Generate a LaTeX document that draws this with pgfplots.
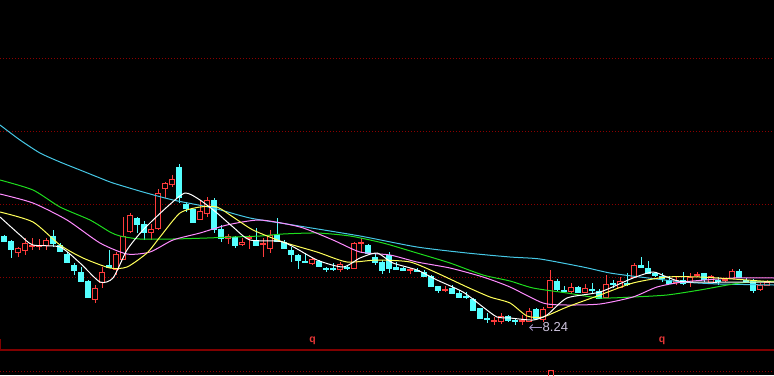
\documentclass[border=0pt]{standalone}
\usepackage{pgfplots}
\usepackage{pgfplotstable}
\pgfplotsset{compat=1.18}
\usetikzlibrary{arrows.meta}
\usepackage{fontspec}
\setmainfont{Liberation Sans}
\definecolor{upc}{RGB}{255,60,60}
\definecolor{downc}{RGB}{84,255,255}
\definecolor{gridc}{RGB}{140,0,0}
\definecolor{sepc}{RGB}{128,0,0}
\definecolor{maw}{RGB}{255,255,255}
\definecolor{may}{RGB}{255,255,90}
\definecolor{map}{RGB}{255,140,255}
\definecolor{mag}{RGB}{30,220,30}
\definecolor{mac}{RGB}{70,200,230}
\definecolor{lblc}{RGB}{205,195,220}
\definecolor{arrc}{RGB}{165,150,200}

% candles: x position, open, high, low, close (screen units, larger = lower)
\pgfplotstableread{
x o h l c
4 236 235 242 241
11 241 240 258 249
18 252 247 257 248
25 250 238 255 243
32 246.5 238 250 245.5
39 246.5 239 250 245.5
46 245 238 250 240
53 236 230 247 243
60 245 243 252 251
67 254 252 263 262
74 265 263 275 270
81 272 267 281 281
88 281 280 297 297
95 299 285 303 288
102 282 267 288 272
109 265 250 268 267
116 269 252 275 254
123 259 217 260 236
130 231 213 233 215
137 218 217 233 224
144 224 221 240 232
151 232 224 240 229
158 228 189 230 193
165 188 182 198 183
172 184 175 187 179
179 167 164 203 197
186 204 202 212 208
193 209 209 222 222
200 219 200 220 211
207 213 197 217 200
214 200 198 233 229
221 229 225 242 238
228 238 234 244 236
235 237 236 248 245
242 244 238 246 242
249 238 235 249 237
256 241 228 245 245
263 244 238 257 243
270 248 230 253 235
277 234 218 242 241
284 242 240 249 248
291 250 247 262 254
298 255 254 269 260
305 261 253 262 262
312 263 257 265 259
319 261 260 267 266
326 268 267 272 269
333 268.5 263 271 269.5
340 269 262 272 264
347 267 265 270 268
354 268 242 269 243
361 243.5 238 253 242.5
368 245 244 253 253
375 257 253 265 262
382 262 260 274 270
389 255 252 273 268
396 267 262 270 269
403 268 267 271 270
410 270.5 268 274 269.5
417 270 268 272 271
424 272 270 277 276
431 276 275 287 286
438 286 286 293 290
445 290 286 292 289
452 288 285 294 293
459 293 290 298 297
466 296 292 299 297
473 299 298 311 310
480 308 308 318 318
487 318 313 323 319
494 321.5 317 325 320.5
501 321 313 324 316
508 316 315 322 320
515 320 318 325 321
522 321.5 315 325 320.5
529 321 308 322 311
536 309 308 320 318
543 319 307 322 309
550 307 270 308 280
557 281 279 291 289
564 290 286 293 291
571 291 283 294 287
578 287 286 293 292
585 292 284 293 288
592 289 283 293 290
599 291 289 299 298
606 297 275 298 284
613 283 280 288 284
620 287 277 288 281
627 283 273 286 284
634 277 263 277 265
641 265 257 267 267
648 268 261 274 273
655 273 272 277 275
662 276 273 282 278
669 280 276 283 283
676 282 277 285 280.5
683 280 272 285 283
690 282 273 287 277
697 275 272 277 274
704 273 273 282 279
711 282 275 284 276
718 280 277 285 281
725 280.5 278 282 279.5
732 278 269 279 271
739 271 269 278 277
746 280 278 281 281
753 281 279 293 290
760 289 283 291 285
767 285 280 285 282
}\candles

\pgfplotstableread{
x y
0 125
20 140
40 153
60 162
80 170
100 178
113 183
143 192
173 200
213 208
250 218
293 225
360 236
417 247
467 253
510 257
540 259
583 267
610 273
640 277
683 282
720 284
774 285
}\macyan

\pgfplotstableread{
x y
0 180
33 190
60 207
90 220
110 232
120 236
140 239
173 239
207 238
233 237
260 236
283 234
317 233
350 236
383 243
417 253
450 263
483 275
510 281
533 288
567 293
600 298
633 297
667 295
700 290
740 283
774 281
}\magreen

\pgfplotstableread{
x y
0 194
33 203
67 220
100 243
127 254
150 252
173 240
200 233
227 225
260 220
300 227
333 240
360 252
390 255
417 262
450 268
483 277
510 287
543 303
567 305
600 304
633 297
657 287
683 282
733 278
774 278
}\mapink

\pgfplotstableread{
x y
0 212
33 222
60 245
83 258
110 268
127 267
147 253
160 237
180 213
200 207
217 207
233 217
253 230
283 242
317 252
347 262
377 260
410 262
437 273
467 287
490 297
510 303
527 316
543 317
567 307
600 295
633 283
667 277
700 277
733 279
774 282
}\mayellow

\pgfplotstableread{
x y
0 217
20 235
33 245
60 247
80 263
100 282
113 278
127 250
143 230
167 207
185 193
200 200
217 213
233 227
250 240
283 242
317 260
343 267
360 258
377 253
393 263
417 270
437 280
463 292
483 307
497 317
510 318
533 320
547 315
567 298
600 292
633 278
653 272
667 277
687 282
774 282
}\mawhite

\pgfplotstablegetrowsof{\candles}
\pgfmathtruncatemacro{\lastrow}{\pgfplotsretval-1}

\begin{document}
\begin{tikzpicture}
\begin{axis}[
  width=774pt, height=375pt, scale only axis,
  xmin=0, xmax=774, ymin=0, ymax=375, y dir=reverse,
  axis line style={draw=none}, ticks=none,
  axis background/.style={fill=black},
]
% grid lines
\addplot[gridc, line width=1pt, dash pattern=on 1pt off 2pt, mark=none, forget plot] coordinates {(0,58) (774,58)};
\addplot[gridc, line width=1pt, dash pattern=on 1pt off 2pt, mark=none, forget plot] coordinates {(0,131) (774,131)};
\addplot[gridc, line width=1pt, dash pattern=on 1pt off 2pt, mark=none, forget plot] coordinates {(0,204) (774,204)};
\addplot[gridc, line width=1pt, dash pattern=on 1pt off 2pt, mark=none, forget plot] coordinates {(0,277) (774,277)};
\addplot[gridc, line width=1pt, dash pattern=on 1pt off 2pt, mark=none, forget plot] coordinates {(0,371) (774,371)};
\addplot[sepc, line width=1.5pt, mark=none, forget plot] coordinates {(0,349.8) (774,349.8)};
\addplot[sepc, line width=1.5pt, mark=none, forget plot] coordinates {(0.7,339) (0.7,350)};
\addplot[upc, line width=1pt, mark=none, forget plot] coordinates {(548.5,376) (548.5,370.5) (553.5,370.5) (553.5,376)};

% candles
\pgfplotsforeachungrouped \i in {0,...,\lastrow}{%
  \pgfplotstablegetelem{\i}{x}\of\candles \let\cx\pgfplotsretval
  \pgfplotstablegetelem{\i}{o}\of\candles \let\co\pgfplotsretval
  \pgfplotstablegetelem{\i}{h}\of\candles \let\ch\pgfplotsretval
  \pgfplotstablegetelem{\i}{l}\of\candles \let\cl\pgfplotsretval
  \pgfplotstablegetelem{\i}{c}\of\candles \let\cc\pgfplotsretval
  \pgfmathsetmacro{\xl}{\cx-2.5}%
  \pgfmathsetmacro{\xr}{\cx+2.5}%
  \pgfmathtruncatemacro{\up}{\co>\cc ? 1 : 0}%
  \ifnum\up=1
    \edef\tmp{\noexpand\addplot[upc, line width=1pt, mark=none, forget plot] coordinates {(\cx,\ch) (\cx,\cl)};
      \noexpand\addplot[draw=upc, fill=black, line width=1pt, mark=none, forget plot] coordinates {(\xl,\co) (\xr,\co) (\xr,\cc) (\xl,\cc)} -- cycle;}%
  \else
    \edef\tmp{\noexpand\addplot[downc, line width=1pt, mark=none, forget plot] coordinates {(\cx,\ch) (\cx,\cl)};
      \noexpand\addplot[draw=downc, fill=downc, line width=1pt, mark=none, forget plot] coordinates {(\xl,\co) (\xr,\co) (\xr,\cc) (\xl,\cc)} -- cycle;}%
  \fi
  \tmp
}

% moving averages
\addplot[mac, line width=1pt, mark=none, smooth, tension=0.4] table {\macyan};
\addplot[mag, line width=1pt, mark=none, smooth, tension=0.4] table {\magreen};
\addplot[map, line width=1pt, mark=none, smooth, tension=0.4] table {\mapink};
\addplot[may, line width=1pt, mark=none, smooth, tension=0.4] table {\mayellow};
\addplot[maw, line width=1pt, mark=none, smooth, tension=0.4] table {\mawhite};

% labels
\draw[arrc, line width=1pt, -{Straight Barb[length=3pt,width=6pt]}] (axis cs:542,327.5) -- (axis cs:529,327.5);
\node[anchor=west, inner sep=0pt, text=lblc, font=\fontsize{13}{13}\selectfont] at (axis cs:542.5,327) {8.24};
\node[anchor=base, inner sep=0pt, text=upc!90!black, font=\bfseries\fontsize{10.5}{10.5}\selectfont] at (axis cs:312.5,342.5) {q};
\node[anchor=base, inner sep=0pt, text=upc!90!black, font=\bfseries\fontsize{10.5}{10.5}\selectfont] at (axis cs:662,342.5) {q};
\end{axis}
\end{tikzpicture}
\end{document}
